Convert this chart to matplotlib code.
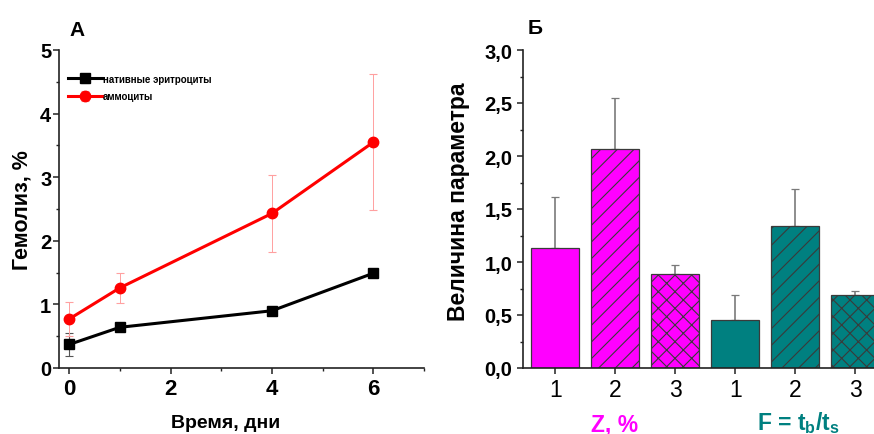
import matplotlib
matplotlib.use('Agg')
import matplotlib.pyplot as plt
from matplotlib.ticker import MultipleLocator, FuncFormatter

plt.rcParams['font.family'] = ['Liberation Sans', 'DejaVu Sans']
plt.rcParams['mathtext.fontset'] = 'custom'
plt.rcParams['mathtext.rm'] = 'Liberation Sans'
plt.rcParams['mathtext.bf'] = 'Liberation Sans:bold'
plt.rcParams['hatch.linewidth'] = 0.8

# панель А: гемолиз
days = [0, 1, 4, 6]
native = [0.37, 0.64, 0.90, 1.49]
native_err = [0.18, 0.03, 0.03, 0.03]
ammo = [0.77, 1.26, 2.43, 3.55]
ammo_err = [0.27, 0.24, 0.60, 1.07]
legend_labels = ['нативные эритроциты', 'аммоциты']

# панель Б: параметры
bar_ticks = ['1', '2', '3', '1', '2', '3']
bar_vals = [1.13, 2.07, 0.89, 0.45, 1.34, 0.69]
bar_err = [0.48, 0.48, 0.08, 0.24, 0.35, 0.04]
bar_colors = ['#ff00ff'] * 3 + ['#008080'] * 3
bar_hatches = ['', '//', 'xx', '', '//', 'xx']
group_labels = ['Z, %', r'F = t$_\mathbf{b}$/t$_\mathbf{s}$']
group_colors = ['#ff00ff', '#008080']

fig = plt.figure(figsize=(8.74, 4.35), dpi=100)

def style_axes(ax):
    for s in ['top', 'right']:
        ax.spines[s].set_visible(False)
    for s in ['left', 'bottom']:
        ax.spines[s].set_linewidth(1.2)
        ax.spines[s].set_color('#222222')
    ax.tick_params(which='major', direction='out', length=4, width=1.1, color='#222222')
    ax.tick_params(which='minor', direction='out', length=2.5, width=1.0, color='#222222')

# ---- А ----
ax1 = fig.add_axes([59 / 874, 66 / 435, 365 / 874, 318 / 435])
style_axes(ax1)
ax1.errorbar(days, native, yerr=native_err, color='black', lw=2.2, marker='s', ms=6.5,
             ecolor='#555555', elinewidth=0.8, capsize=3, capthick=0.8, label=legend_labels[0])
ax1.errorbar(days, ammo, yerr=ammo_err, color='#ff0000', lw=2.2, marker='o', ms=7.5,
             ecolor='#ffa0a0', elinewidth=0.7, capsize=3, capthick=0.8, label=legend_labels[1])
ax1.set_xlim(-0.2, 7)
ax1.set_ylim(0, 5)
ax1.xaxis.set_major_locator(MultipleLocator(2))
ax1.xaxis.set_minor_locator(MultipleLocator(1))
ax1.yaxis.set_major_locator(MultipleLocator(1))
ax1.yaxis.set_minor_locator(MultipleLocator(0.5))
ax1.tick_params(axis='x', which='major', labelsize=16, pad=3)
ax1.tick_params(axis='y', which='major', labelsize=14.5, pad=1.5)
for lbl in ax1.get_xticklabels() + ax1.get_yticklabels():
    lbl.set_fontweight('bold')
ax1.set_xlabel('Время, дни', fontsize=14, fontweight='bold', va='center')
ax1.xaxis.set_label_coords((226 - 59) / 365, (369 - 424) / 318)
ax1.set_ylabel('Гемолиз, %', fontsize=15.5, fontweight='bold', va='center')
ax1.yaxis.set_label_coords((22 - 59) / 365, 0.5)
leg = ax1.legend(loc='upper left', bbox_to_anchor=(0.025, 0.925), frameon=False,
                 prop={'size': 7, 'weight': 'bold'}, handlelength=3.5, handletextpad=0.1,
                 labelspacing=0.75, borderpad=0, borderaxespad=0, numpoints=1)
fig.text(77 / 874, 1 - 30 / 435, 'А', fontsize=15, fontweight='bold', ha='center', va='center')

# ---- Б ----
ax2 = fig.add_axes([522.7 / 874, 66 / 435, 351.3 / 874, 318 / 435])
style_axes(ax2)
xs = list(range(len(bar_vals)))
ax2.bar(xs, bar_vals, width=0.8, color=bar_colors, edgecolor='#3a3a3a', lw=0.9, zorder=2)
for p, h in zip(ax2.patches, bar_hatches):
    p.set_hatch(h)
ax2.errorbar(xs, bar_vals, yerr=[[0] * len(bar_err), bar_err], fmt='none',
             ecolor='#7a7a7a', elinewidth=1.2, capsize=3, capthick=0.9, zorder=1)
ax2.set_xlim(-0.54, 5.31)
ax2.set_ylim(0, 3)
ax2.set_xticks(xs)
ax2.set_xticklabels(bar_ticks)
ax2.yaxis.set_major_locator(MultipleLocator(0.5))
ax2.yaxis.set_minor_locator(MultipleLocator(0.25))
ax2.yaxis.set_major_formatter(FuncFormatter(lambda v, pos: f'{v:.1f}'.replace('.', ',')))
ax2.tick_params(axis='x', which='major', labelsize=16.5, pad=3)
ax2.tick_params(axis='y', which='major', labelsize=14.5, pad=3.5)
for lbl in ax2.get_yticklabels():
    lbl.set_fontweight('bold')
ax2.set_ylabel('Величина параметра', fontsize=16.5, fontweight='bold', va='center')
ax2.yaxis.set_label_coords((459 - 522.7) / 351.3, 0.525)
fig.text(615 / 874, 1 - 425 / 435, group_labels[0], color=group_colors[0], fontsize=16.5,
         fontweight='bold', ha='center', va='center')
fig.text(798 / 874, 1 - 423 / 435, group_labels[1], color=group_colors[1], fontsize=16.5,
         fontweight='bold', ha='center', va='center')
fig.text(535 / 874, 1 - 28 / 435, 'Б', fontsize=15, fontweight='bold', ha='center', va='center')

fig.savefig('out.png', dpi=100)
